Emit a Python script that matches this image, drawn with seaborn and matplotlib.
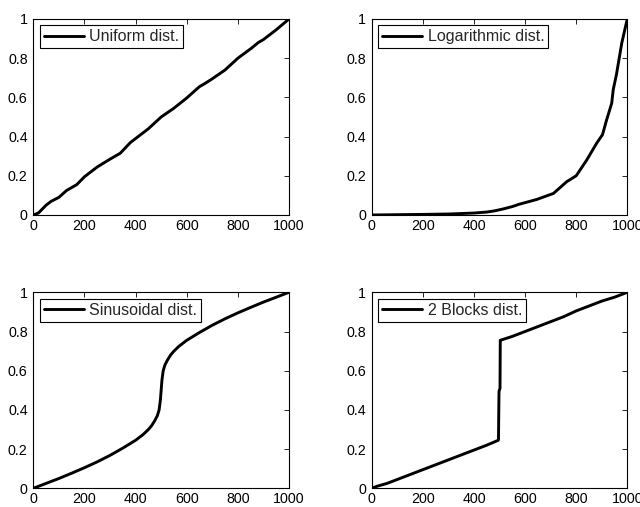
import matplotlib
matplotlib.use("Agg")
import matplotlib.pyplot as plt
import seaborn as sns
import pandas as pd

# ---- data ----
uniform_x = [0, 20, 50, 70, 100, 130, 170, 200, 250, 300, 340, 380, 400, 450, 500,
             550, 600, 650, 670, 700, 750, 800, 850, 880, 900, 950, 1000]
uniform_y = [0, 0.01, 0.05, 0.07, 0.09, 0.125, 0.155, 0.195, 0.245, 0.285, 0.315, 0.37,
             0.39, 0.44, 0.50, 0.545, 0.597, 0.655, 0.67, 0.695, 0.74, 0.80, 0.848, 0.88,
             0.895, 0.945, 1.0]

log_x = [0, 200, 300, 400, 450, 480, 515, 550, 580, 645, 711, 763, 800, 841, 880, 903,
         919, 939, 945, 958, 978, 991, 1000]
log_y = [0, 0.003, 0.005, 0.01, 0.015, 0.021, 0.031, 0.043, 0.056, 0.079, 0.11, 0.17,
         0.20, 0.28, 0.366, 0.41, 0.485, 0.57, 0.64, 0.72, 0.875, 0.95, 1.0]

sin_x = [0, 50, 100, 150, 200, 250, 300, 350, 400, 430, 450, 463, 475, 485, 492, 497,
         500, 503, 508, 515, 525, 537, 550, 570, 600, 650, 700, 750, 800, 850, 900, 950, 1000]
sin_y = [0, 0.025, 0.05, 0.077, 0.105, 0.135, 0.168, 0.205, 0.245, 0.275, 0.30, 0.32,
         0.345, 0.37, 0.40, 0.45, 0.50, 0.55, 0.60, 0.63, 0.655, 0.68, 0.70, 0.725,
         0.755, 0.795, 0.832, 0.865, 0.895, 0.923, 0.95, 0.975, 1.0]

blk_x = [0, 20, 60, 100, 150, 200, 250, 300, 350, 400, 450, 495, 496, 498, 499, 502,
         503, 550, 600, 650, 700, 750, 800, 850, 900, 950, 1000]
blk_y = [0, 0.01, 0.025, 0.045, 0.07, 0.095, 0.12, 0.145, 0.17, 0.195, 0.22, 0.245,
         0.25, 0.49, 0.50, 0.51, 0.755, 0.775, 0.80, 0.825, 0.85, 0.875, 0.905, 0.93,
         0.955, 0.975, 1.0]

labels = ["Uniform dist.", "Logarithmic dist.", "Sinusoidal dist.", "2 Blocks dist."]
series = [(uniform_x, uniform_y), (log_x, log_y), (sin_x, sin_y), (blk_x, blk_y)]

x_ticks = [0, 200, 400, 600, 800, 1000]
y_ticks = [0, 0.2, 0.4, 0.6, 0.8, 1]
y_ticklabels = ["0", "0.2", "0.4", "0.6", "0.8", "1"]

sns.set_style("white")
plt.rcParams["font.family"] = ["Liberation Sans", "DejaVu Sans"]

fig = plt.figure(figsize=(6.4, 5.07), dpi=100)
W, H = 640, 507
positions = [(33.3, 19, 289, 215), (371.7, 19, 627.3, 215),
             (33.3, 292.3, 289, 488.3), (371.7, 292.3, 627.3, 488.3)]

for (l, t, r, b), (xs, ys), lab in zip(positions, series, labels):
    ax = fig.add_axes([l / W, 1 - b / H, (r - l) / W, (b - t) / H])
    df = pd.DataFrame({"x": xs, "y": ys})
    sns.lineplot(data=df, x="x", y="y", ax=ax, color="black", linewidth=2.1,
                 label=lab, estimator=None, sort=False)
    ax.set_xlim(0, 1000)
    ax.set_ylim(0, 1)
    ax.set_xticks(x_ticks)
    ax.set_yticks(y_ticks)
    ax.set_yticklabels(y_ticklabels)
    ax.set_xlabel("")
    ax.set_ylabel("")
    ax.tick_params(direction="in", length=3.5, width=0.6, top=True, right=True,
                   labelsize=10.3, colors="black", pad=3)
    ax.tick_params(axis="y", pad=4)
    for s in ax.spines.values():
        s.set_color("black")
        s.set_linewidth(0.8)
    leg = ax.legend(loc="upper left", fontsize=11.5, frameon=True, fancybox=False,
                    handlelength=2.5, handletextpad=0.35, borderpad=0.25,
                    borderaxespad=0.4)
    leg.get_frame().set_edgecolor("black")
    leg.get_frame().set_linewidth(0.8)
    leg.get_frame().set_alpha(1)

fig.savefig("out.png", dpi=100)
